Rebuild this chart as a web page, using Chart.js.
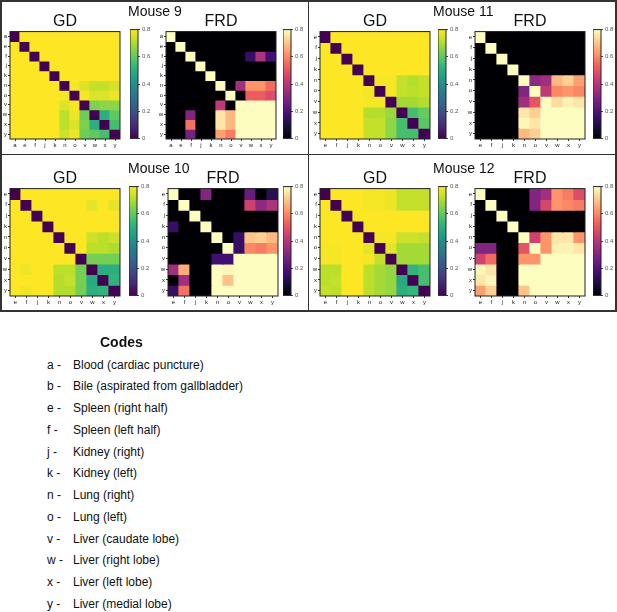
<!DOCTYPE html>
<html>
<head>
<meta charset="utf-8">
<script src="https://cdn.jsdelivr.net/npm/chart.js@4.4.1/dist/chart.umd.min.js"></script>
<style>
  body { margin: 0; background: #fff; font-family: "Liberation Sans", Arial, sans-serif; }
  #fig { position: relative; width: 617px; height: 612px; overflow: hidden; }
  .line { position: absolute; background: #333; }
  .txt { position: absolute; white-space: nowrap; color: #111; line-height: 1; }
</style>
</head>
<body>
<div id="fig"></div>
<script>
// sample codes on the axes
const codesMouse9 = ['a', 'e', 'f', 'j', 'k', 'n', 'o', 'v', 'w', 'x', 'y'];
const codesOthers = ['e', 'f', 'j', 'k', 'n', 'o', 'v', 'w', 'x', 'y'];
const colorbarTicks = [0, 0.2, 0.4, 0.6, 0.8];

// GD matrices (viridis, 0 - 0.8)
const gdMouse9 = [
  [0, .82, .82, .82, .82, .82, .82, .82, .82, .82, .82],
  [.82, 0, .82, .82, .82, .82, .82, .82, .82, .82, .82],
  [.82, .82, 0, .82, .82, .82, .82, .82, .82, .82, .82],
  [.82, .82, .82, 0, .82, .82, .82, .82, .82, .82, .82],
  [.82, .82, .82, .82, 0, .82, .82, .82, .82, .82, .82],
  [.82, .82, .82, .82, .82, 0, .79, .76, .73, .73, .75],
  [.82, .82, .82, .82, .82, .79, 0, .79, .76, .76, .78],
  [.82, .82, .82, .82, .82, .76, .79, 0, .64, .66, .66],
  [.82, .82, .82, .82, .82, .72, .78, .62, 0, .5, .6],
  [.82, .82, .82, .82, .82, .72, .76, .64, .5, 0, .56],
  [.82, .82, .82, .82, .82, .74, .78, .62, .6, .56, 0]
];
const gdMouse11 = [
  [0, .82, .82, .82, .82, .82, .82, .82, .82, .82],
  [.82, 0, .82, .82, .82, .82, .82, .82, .82, .82],
  [.82, .82, 0, .82, .82, .82, .82, .82, .82, .82],
  [.82, .82, .82, 0, .82, .82, .82, .82, .82, .82],
  [.82, .82, .82, .82, 0, .79, .79, .73, .71, .73],
  [.82, .82, .82, .82, .79, 0, .79, .73, .72, .73],
  [.82, .82, .82, .82, .79, .79, 0, .69, .69, .71],
  [.82, .82, .82, .82, .71, .71, .68, 0, .56, .61],
  [.82, .82, .82, .82, .73, .73, .66, .56, 0, .59],
  [.82, .82, .82, .82, .73, .73, .66, .56, .56, 0]
];
const gdMouse10 = [
  [0, .82, .82, .82, .82, .82, .82, .82, .82, .82],
  [.82, 0, .82, .82, .82, .82, .82, .77, .82, .77],
  [.82, .82, 0, .82, .82, .82, .82, .82, .82, .82],
  [.82, .82, .82, 0, .82, .82, .82, .82, .82, .82],
  [.82, .82, .82, .82, 0, .82, .82, .74, .72, .74],
  [.82, .82, .82, .82, .82, 0, .82, .72, .72, .7],
  [.82, .82, .82, .82, .82, .82, 0, .63, .63, .63],
  [.82, .78, .82, .82, .72, .72, .63, 0, .5, .5],
  [.82, .8, .82, .82, .71, .73, .63, .48, 0, .52],
  [.82, .78, .82, .82, .71, .71, .63, .5, .52, 0]
];
const gdMouse12 = [
  [0, .82, .82, .82, .79, .79, .78, .73, .73, .73],
  [.82, 0, .82, .82, .79, .79, .78, .73, .73, .73],
  [.82, .82, 0, .82, .82, .82, .82, .82, .82, .82],
  [.82, .82, .82, 0, .82, .82, .82, .82, .82, .82],
  [.8, .8, .82, .82, 0, .79, .79, .74, .74, .73],
  [.79, .79, .82, .82, .77, 0, .77, .69, .69, .69],
  [.79, .79, .82, .82, .79, .73, 0, .69, .69, .69],
  [.72, .72, .82, .82, .72, .69, .67, 0, .52, .56],
  [.72, .73, .82, .82, .72, .69, .67, .48, 0, .56],
  [.73, .72, .82, .82, .72, .69, .67, .5, .53, 0]
];

// FRD matrices (magma, 0 - 0.8)
const frdMouse9 = [
  [.9, 0, 0, 0, 0, 0, 0, 0, 0, 0, 0],
  [0, .9, 0, 0, 0, 0, 0, 0, 0, 0, 0],
  [0, 0, .9, 0, 0, 0, 0, 0, .15, .38, .18],
  [0, 0, 0, .9, 0, 0, 0, 0, 0, 0, 0],
  [0, 0, 0, 0, .9, 0, 0, 0, 0, 0, 0],
  [0, 0, 0, 0, 0, .9, 0, .36, .62, .62, .55],
  [0, 0, 0, 0, 0, 0, .9, 0, .52, .52, .48],
  [0, 0, 0, 0, 0, .42, 0, .9, .9, .9, .9],
  [0, 0, .3, 0, 0, .76, .68, .9, .9, .9, .9],
  [0, 0, .56, 0, 0, .76, .68, .9, .9, .9, .9],
  [0, 0, .28, 0, 0, .64, .58, .9, .9, .9, .9]
];
const frdMouse11 = [
  [.9, 0, 0, 0, 0, 0, 0, 0, 0, 0],
  [0, .9, 0, 0, 0, 0, 0, 0, 0, 0],
  [0, 0, .9, 0, 0, 0, 0, 0, 0, 0],
  [0, 0, 0, .9, 0, 0, 0, 0, 0, 0],
  [0, 0, 0, 0, .9, .32, .36, .68, .72, .64],
  [0, 0, 0, 0, .3, .9, .42, .6, .62, .6],
  [0, 0, 0, 0, .36, .5, .9, .74, .78, .76],
  [0, 0, 0, 0, .76, .72, .9, .9, .9, .9],
  [0, 0, 0, 0, .79, .76, .9, .9, .9, .9],
  [0, 0, 0, 0, .68, .72, .9, .9, .9, .9]
];
const frdMouse10 = [
  [.9, 0, 0, .3, 0, 0, 0, .25, 0, .12],
  [0, .9, 0, 0, 0, 0, 0, .45, .32, .38],
  [0, 0, .9, 0, 0, 0, 0, 0, 0, 0],
  [.15, 0, 0, .9, 0, 0, 0, 0, 0, 0],
  [0, 0, 0, 0, .9, 0, .15, .7, .72, .68],
  [0, 0, 0, 0, 0, .9, .15, .6, .58, .62],
  [0, 0, 0, 0, .17, .17, .9, .9, .9, .9],
  [.36, .66, 0, 0, .9, .79, .9, .9, .9, .9],
  [0, .36, 0, 0, .9, .7, .9, .9, .9, .9],
  [.15, .56, 0, 0, .9, .9, .9, .9, .9, .9]
];
const frdMouse12 = [
  [.9, 0, 0, 0, 0, .3, .36, .62, .58, .48],
  [0, .9, 0, 0, 0, .3, .46, .62, .6, .58],
  [0, 0, .9, 0, 0, 0, 0, 0, 0, 0],
  [0, 0, 0, .9, 0, 0, 0, 0, 0, 0],
  [0, 0, 0, 0, .9, .45, .62, .76, .76, .62],
  [.3, .3, 0, 0, .5, .9, .62, .78, .78, .76],
  [.45, .55, 0, 0, .62, .62, .9, .9, .9, .9],
  [.79, .76, 0, 0, .9, .9, .9, .9, .9, .9],
  [.76, .79, 0, 0, .9, .9, .9, .9, .9, .9],
  [.64, .72, 0, 0, .7, .9, .9, .9, .9, .9]
];

// legend of codes
const codeLetters = ['a', 'b', 'e', 'f', 'j', 'k', 'n', 'o', 'v', 'w', 'x', 'y'];
const codeNames = [
  'Blood (cardiac puncture)', 'Bile (aspirated from gallbladder)', 'Spleen (right half)',
  'Spleen (left half)', 'Kidney (right)', 'Kidney (left)', 'Lung (right)', 'Lung (left)',
  'Liver (caudate lobe)', 'Liver (right lobe)', 'Liver (left lobe)', 'Liver (medial lobe)'
];

// colormaps
const viridis = ['#440154', '#482878', '#3e4989', '#31688e', '#26828e', '#1f9e89', '#35b779', '#6ece58', '#b5de2b', '#fde725'];
const magma = ['#000004', '#180f3d', '#440f76', '#721f81', '#9e2f7f', '#cd4071', '#f1605d', '#fd9668', '#feca8d', '#fcfdbf'];
const VMAX = 0.8;
const FONT = '"Liberation Sans", Arial, sans-serif';

function hexRgb(h) {
  return [parseInt(h.slice(1, 3), 16), parseInt(h.slice(3, 5), 16), parseInt(h.slice(5, 7), 16)];
}
function colorAt(stops, v) {
  let t = Math.max(0, Math.min(1, v / VMAX));
  const pos = t * (stops.length - 1);
  const i = Math.min(Math.floor(pos), stops.length - 2);
  const f = pos - i;
  const a = hexRgb(stops[i]), b = hexRgb(stops[i + 1]);
  const c = a.map((x, k) => Math.round(x + (b[k] - x) * f));
  return `rgb(${c[0]},${c[1]},${c[2]})`;
}

const fig = document.getElementById('fig');

function addCanvas(left, top, w, h) {
  const c = document.createElement('canvas');
  c.width = w; c.height = h;
  c.style.cssText = `position:absolute;left:${left}px;top:${top}px;width:${w}px;height:${h}px`;
  fig.appendChild(c);
  return c;
}
function addText(str, left, top, size, opts = {}) {
  const d = document.createElement('div');
  d.className = 'txt';
  d.textContent = str;
  d.style.left = left + 'px';
  d.style.top = top + 'px';
  d.style.fontSize = size + 'px';
  if (opts.bold) d.style.fontWeight = 'bold';
  if (opts.center) d.style.transform = 'translateX(-50%)';
  fig.appendChild(d);
}
function addLine(left, top, w, h) {
  const d = document.createElement('div');
  d.className = 'line';
  d.style.cssText = `left:${left}px;top:${top}px;width:${w}px;height:${h}px`;
  fig.appendChild(d);
}

// thin frame round the plot area
const framePlugin = {
  id: 'frame',
  afterDatasetsDraw(chart) {
    const { ctx, chartArea: a } = chart;
    ctx.save();
    ctx.strokeStyle = '#222';
    ctx.lineWidth = 1;
    ctx.strokeRect(a.left, a.top, a.right - a.left, a.bottom - a.top);
    ctx.restore();
  }
};

function drawHeatmap(codes, matrix, stops, x, y, size) {
  const n = codes.length;
  const canvas = addCanvas(x - 10, y - 2, size + 12, size + 12);
  new Chart(canvas, {
    type: 'bar',
    data: {
      labels: codes,
      datasets: codes.map((c, i) => ({
        data: codes.map(() => [n - i - 1, n - i]),
        backgroundColor: matrix[i].map(v => colorAt(stops, v)),
        grouped: false,
        barPercentage: 1,
        categoryPercentage: 1,
        borderWidth: 0,
        inflateAmount: 0.6
      }))
    },
    options: {
      responsive: false,
      animation: false,
      layout: { padding: { top: 2, right: 2, left: 0, bottom: 0 } },
      plugins: { legend: { display: false }, tooltip: { enabled: false } },
      scales: {
        x: {
          afterFit: s => { s.height = 10; },
          border: { display: false },
          grid: { offset: false, drawOnChartArea: false, tickLength: 2, color: '#333' },
          ticks: { font: { size: 6, family: FONT }, color: '#222', padding: 1, maxRotation: 0, autoSkip: false }
        },
        y: {
          min: 0, max: n,
          afterBuildTicks: s => { s.ticks = codes.map((c, i) => ({ value: i + 0.5 })); },
          afterFit: s => { s.width = 10; },
          border: { display: false },
          grid: { drawOnChartArea: false, tickLength: 2, color: '#333' },
          ticks: {
            font: { size: 6, family: FONT }, color: '#222', padding: 1,
            callback: v => codes[n - 1 - Math.floor(v)]
          }
        }
      }
    },
    plugins: [framePlugin]
  });
}

function drawColorbar(stops, x, y, h) {
  const canvas = addCanvas(x, y - 5, 8 + 22, h + 10);
  new Chart(canvas, {
    type: 'bar',
    data: {
      labels: [''],
      datasets: [{
        data: [[0, VMAX]],
        barPercentage: 1,
        categoryPercentage: 1,
        borderWidth: 0,
        backgroundColor: ctx => {
          const a = ctx.chart.chartArea;
          if (!a) return stops[0];
          const g = ctx.chart.ctx.createLinearGradient(0, a.bottom, 0, a.top);
          stops.forEach((s, i) => g.addColorStop(i / (stops.length - 1), s));
          return g;
        }
      }]
    },
    options: {
      responsive: false,
      animation: false,
      layout: { padding: { top: 5, bottom: 5, left: 0, right: 0 } },
      plugins: { legend: { display: false }, tooltip: { enabled: false } },
      scales: {
        x: { display: false },
        y: {
          position: 'right',
          min: 0, max: VMAX,
          afterBuildTicks: s => { s.ticks = colorbarTicks.map(v => ({ value: v })); },
          afterFit: s => { s.width = 22; },
          border: { display: false },
          grid: { drawOnChartArea: false, tickLength: 2, color: '#444' },
          ticks: { font: { size: 6, family: FONT }, color: '#555', padding: 2, callback: v => String(v) }
        }
      }
    },
    plugins: [framePlugin]
  });
}

// panel layout
const panels = [
  { title: 'Mouse 9', codes: codesMouse9, gd: gdMouse9, frd: frdMouse9, gdX: 10, gdBar: 130, frdX: 166, frdBar: 283, y: 29, titleX: 128 },
  { title: 'Mouse 11', codes: codesOthers, gd: gdMouse11, frd: frdMouse11, gdX: 320, gdBar: 438, frdX: 475, frdBar: 593, y: 29, titleX: 433 },
  { title: 'Mouse 10', codes: codesOthers, gd: gdMouse10, frd: frdMouse10, gdX: 10, gdBar: 129, frdX: 168, frdBar: 283, y: 186, titleX: 128 },
  { title: 'Mouse 12', codes: codesOthers, gd: gdMouse12, frd: frdMouse12, gdX: 320, gdBar: 438, frdX: 475, frdBar: 593, y: 186, titleX: 433 }
];
const SIZE = 110;

panels.forEach(p => {
  drawHeatmap(p.codes, p.gd, viridis, p.gdX, p.y, SIZE);
  drawHeatmap(p.codes, p.frd, magma, p.frdX, p.y, SIZE);
  drawColorbar(viridis, p.gdBar, p.y, SIZE);
  drawColorbar(magma, p.frdBar, p.y, SIZE);
  addText('GD', p.gdX + SIZE / 2, p.y - 16, 16, { center: true });
  addText('FRD', p.frdX + SIZE / 2, p.y - 16, 16, { center: true });
  addText(p.title, p.titleX, p.y - 25, 14);
});

// panel frame
addLine(0, 0, 617, 1.5);
addLine(0, 310, 617, 1.5);
addLine(0, 0, 1.5, 311);
addLine(615, 0, 1.5, 311);
addLine(307.5, 0, 1.5, 311);
addLine(0, 153.5, 617, 1.5);

// codes list
addText('Codes', 100, 335, 14, { bold: true });
codeLetters.forEach((c, i) => {
  const top = 358.5 + i * 21.75;
  addText(c + ' -', 47, top, 12);
  addText(codeNames[i], 73, top, 12);
});
</script>
</body>
</html>
